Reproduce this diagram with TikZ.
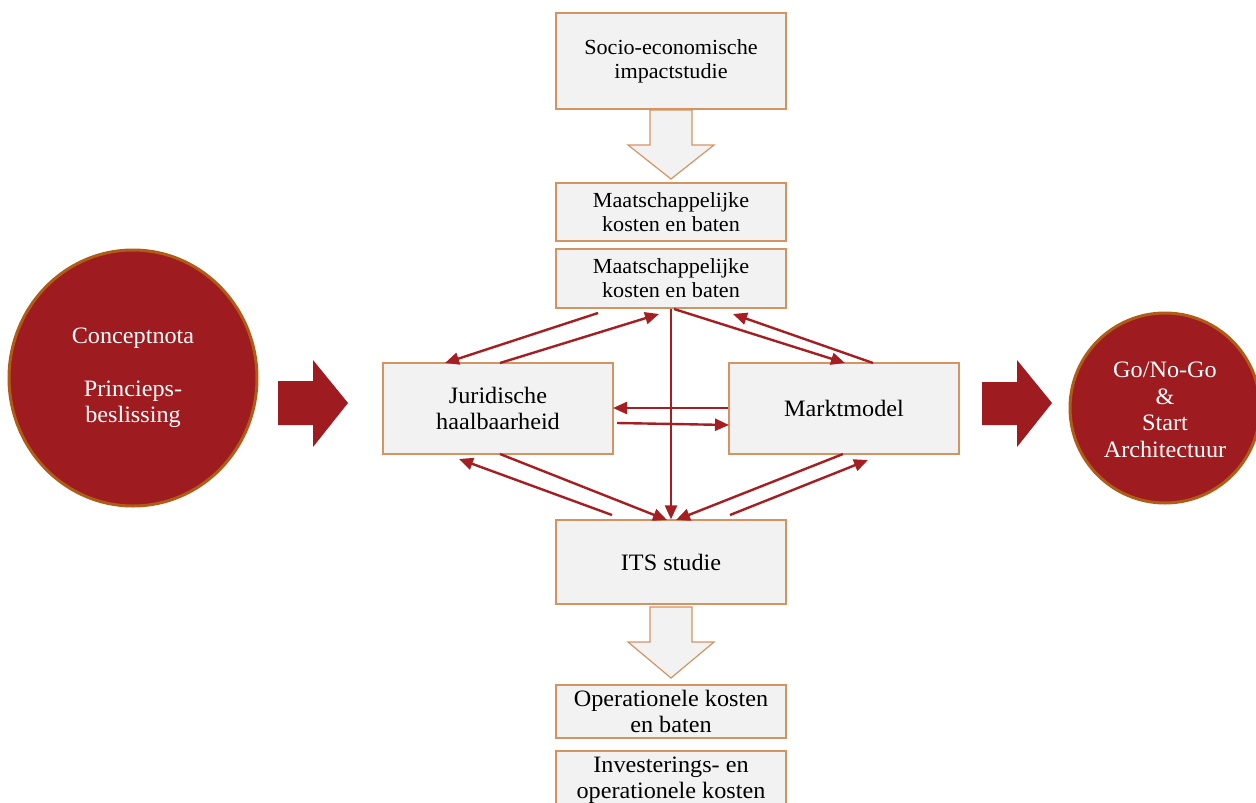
\documentclass[tikz,border=0pt]{standalone}
\usepackage{fontspec}
\setmainfont[FakeStretch=1.03]{Liberation Serif}
\usetikzlibrary{arrows.meta,shapes.geometric}
\definecolor{dred}{RGB}{158,27,31}
\definecolor{cborder}{RGB}{176,92,22}
\definecolor{bborder}{RGB}{212,148,98}
\definecolor{bfill}{RGB}{242,242,242}
\definecolor{lred}{RGB}{165,30,34}
\tikzset{
  box/.style={draw=bborder, fill=bfill, line width=1.2pt, minimum width=230pt, inner sep=0pt, align=center},
  smalltxt/.style={font=\fontsize{21.5}{24}\selectfont},
  bigtxt/.style={font=\fontsize{23.5}{26.5}\selectfont},
  redcircle/.style={draw=cborder, fill=dred, line width=3pt, text=white, align=center, inner sep=0pt, font=\fontsize{23.5}{26.5}\selectfont},
  conn/.style={draw=lred, line width=2.4pt, -{Triangle[length=14pt,width=12pt]}},
  grayarrow/.style={draw=bborder, fill=bfill, line width=1.2pt},
  redarrow/.style={fill=dred, draw=none}
}
\begin{document}
\begin{tikzpicture}[x=1pt,y=-1pt]
\useasboundingbox (0,0) rectangle (1256,803);
\begin{scope}
\clip (0,0) rectangle (1256,803);
% boxes
\node[box, smalltxt, minimum height=96pt] (socio) at (671,61) {Socio-economische\\impactstudie};
\node[box, smalltxt, minimum height=58pt] (m1) at (671,212) {Maatschappelijke\\kosten en baten};
\node[box, smalltxt, minimum height=59pt] (m2) at (671,278.5) {Maatschappelijke\\kosten en baten};
\node[box, bigtxt, minimum height=91pt] (jur) at (498,408.5) {Juridische\\haalbaarheid};
\node[box, bigtxt, minimum height=91pt] (markt) at (844,408.5) {Marktmodel};
\node[box, bigtxt, minimum height=84pt] (its) at (671,562) {ITS studie};
\node[box, bigtxt, minimum height=53pt] (oper) at (671,711.5) {Operationele kosten\\en baten};
\node[box, bigtxt, minimum height=62pt, text depth=0pt] (inv) at (671,782) {};
\node[bigtxt, align=center, inner sep=0pt] (invt) at (671,780) {Investerings- en\\operationele kosten};
% circles
\node[redcircle, ellipse, minimum width=248pt, minimum height=256pt] (concept) at (133,378) {Conceptnota\\ \\Princieps-\\beslissing};
\node[redcircle, circle, minimum size=190pt] (go) at (1165,408) {};
\node[text=white, align=center, inner sep=0pt, font=\fontsize{23.5}{26.5}\selectfont] (gotext) at (1165,410) {Go/No-Go\\\&\\Start\\Architectuur};
\end{scope}
% gray block arrows
\path[grayarrow] (650,110) -- (692,110) -- (692,145) -- (714,145) -- (671,179) -- (628,145) -- (650,145) -- cycle;
\path[grayarrow] (650,607) -- (692,607) -- (692,642) -- (714,642) -- (671,678) -- (628,642) -- (650,642) -- cycle;
% red block arrows
\path[redarrow] (278,381) -- (313,381) -- (313,360) -- (348,403) -- (313,447) -- (313,425) -- (278,425) -- cycle;
\path[redarrow] (982,382) -- (1017,382) -- (1017,360) -- (1052,403) -- (1017,447) -- (1017,425) -- (982,425) -- cycle;
% connector coordinates
\coordinate (a1s) at (598,313); \coordinate (a1e) at (445,363);
\coordinate (a2s) at (500,363); \coordinate (a2e) at (659,314);
\coordinate (a3s) at (674,309); \coordinate (a3e) at (845,363);
\coordinate (a4s) at (873,363); \coordinate (a4e) at (733,314);
\coordinate (a6s) at (728,408); \coordinate (a6e) at (613,408);
\coordinate (a7s) at (617,423); \coordinate (a7e) at (729,425);
\coordinate (a8s) at (500,454); \coordinate (a8e) at (667,520);
\coordinate (a9s) at (612,515); \coordinate (a9e) at (459,459);
\coordinate (a10s) at (843,454); \coordinate (a10e) at (676,520);
\coordinate (a11s) at (730,515); \coordinate (a11e) at (868,460);
\draw[conn] (a1s) -- (a1e);
\draw[conn] (a2s) -- (a2e);
\draw[conn] (a3s) -- (a3e);
\draw[conn] (a4s) -- (a4e);
\draw[conn] (m2.south) -- (its.north);
\draw[conn] (a6s) -- (a6e);
\draw[conn] (a7s) -- (a7e);
\draw[conn] (a8s) -- (a8e);
\draw[conn] (a9s) -- (a9e);
\draw[conn] (a10s) -- (a10e);
\draw[conn] (a11s) -- (a11e);
\end{tikzpicture}
\end{document}
